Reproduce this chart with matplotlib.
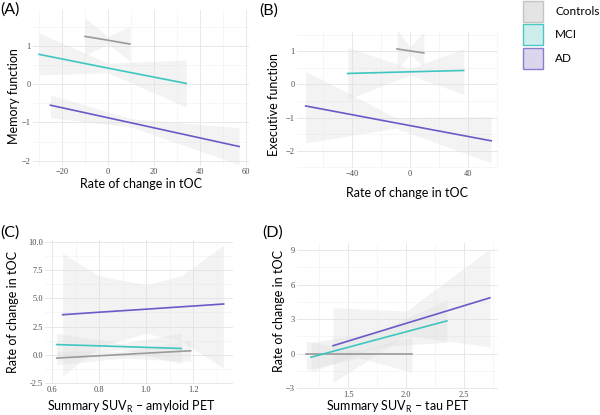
import matplotlib
matplotlib.use("Agg")
import matplotlib.pyplot as plt
from matplotlib.patches import Rectangle
from matplotlib.ticker import AutoMinorLocator

plt.rcParams['font.family'] = ['Lato', 'DejaVu Sans']
plt.rcParams['mathtext.fontset'] = 'custom'
plt.rcParams['mathtext.rm'] = 'Lato'

groups = ['Controls', 'MCI', 'AD']
line_colors = {'Controls': '#9a9a9a', 'MCI': '#3fc6c0', 'AD': '#6a5ac8'}
box_fill = {'Controls': '#e4e4e4', 'MCI': '#cdeeed', 'AD': '#dcd5ee'}
box_edge = {'Controls': '#c4c4c4', 'MCI': '#4cc8c2', 'AD': '#8b7dce'}

# panel A: memory function vs rate of change in tOC
a_x = {'Controls': [-10, 0, 9.5], 'MCI': [-30, 0, 34], 'AD': [-25, 10, 57]}
a_fit = {'Controls': [1.25, 1.15, 1.05], 'MCI': [0.78, 0.42, 0.02], 'AD': [-0.55, -1.01, -1.63]}
a_lo = {'Controls': [0.75, 1.05, 0.6], 'MCI': [0.24, 0.3, -0.6], 'AD': [-0.88, -1.12, -2.1]}
a_hi = {'Controls': [1.73, 1.25, 1.5], 'MCI': [1.34, 0.55, 0.63], 'AD': [-0.28, -0.9, -1.14]}

# panel B: executive function vs rate of change in tOC
b_x = {'Controls': [-9, 0, 9.5], 'MCI': [-43, 0, 37], 'AD': [-72, -10, 56]}
b_fit = {'Controls': [1.07, 1.01, 0.95], 'MCI': [0.33, 0.38, 0.42], 'AD': [-0.65, -1.16, -1.7]}
b_lo = {'Controls': [0.45, 0.9, 0.55], 'MCI': [-0.45, 0.28, -0.3], 'AD': [-1.76, -1.32, -2.36]}
b_hi = {'Controls': [1.67, 1.12, 1.58], 'MCI': [1.12, 0.48, 1.08], 'AD': [0.4, -1.0, -0.97]}

# panel C: rate of change in tOC vs amyloid PET SUVR
c_x = {'Controls': [0.62, 0.9, 1.19], 'MCI': [0.62, 0.9, 1.15], 'AD': [0.645, 0.8, 1.0, 1.15, 1.33]}
c_fit = {'Controls': [-0.3, 0.02, 0.35], 'MCI': [0.9, 0.72, 0.55], 'AD': [3.55, 3.77, 4.04, 4.25, 4.5]}
c_lo = {'Controls': [-0.9, -0.3, -0.6], 'MCI': [-0.1, 0.45, -0.8], 'AD': [-1.9, 0.7, 1.9, 1.2, -1.2]}
c_hi = {'Controls': [0.3, 0.3, 1.3], 'MCI': [1.9, 1.0, 1.9], 'AD': [9.0, 7.0, 6.2, 7.0, 9.7]}
c_yticks = [-2.5, 0, 2.5, 5, 7.5, 10]
c_ylabels = ['-2.5', '0.0', '2.5', '5.0', '7.5', '10.0']

# panel D: rate of change in tOC vs tau PET SUVR
d_x = {'Controls': [1.14, 1.6, 2.05], 'MCI': [1.18, 1.75, 2.35], 'AD': [1.37, 2.0, 2.72]}
d_fit = {'Controls': [-0.05, -0.05, -0.05], 'MCI': [-0.3, 1.24, 2.85], 'AD': [0.7, 2.64, 4.85]}
d_lo = {'Controls': [-1.4, -0.35, -1.6], 'MCI': [-1.6, 0.6, 1.0], 'AD': [-2.5, 1.6, 0.6]}
d_hi = {'Controls': [1.1, 0.25, 1.5], 'MCI': [1.0, 1.9, 4.7], 'AD': [4.0, 3.7, 9.1]}


def px_axes(fig, left, top, right, bottom):
    W, H = 600, 415
    return fig.add_axes([left / W, 1 - bottom / H, (right - left) / W, (bottom - top) / H])


def draw(ax, xs, fit, lo, hi):
    for g in groups:
        ax.fill_between(xs[g], lo[g], hi[g], color='#dedede', alpha=0.35, lw=0, zorder=1)
    for g in groups:
        ax.plot(xs[g], fit[g], color=line_colors[g], lw=1.2, zorder=3)
    for s in ax.spines.values():
        s.set_visible(False)
    ax.xaxis.set_minor_locator(AutoMinorLocator(2))
    ax.yaxis.set_minor_locator(AutoMinorLocator(2))
    ax.grid(True, which='major', color='#e8e8e8', lw=0.7, zorder=0)
    ax.grid(True, which='minor', color='#f0f0f0', lw=0.4, zorder=0)
    ax.set_axisbelow(True)
    ax.tick_params(which='both', length=0, labelsize=6, labelcolor='#4d4d4d', pad=1.5)


def serif_ticks(ax):
    for t in ax.get_xticklabels() + ax.get_yticklabels():
        t.set_family('Liberation Serif')


fig = plt.figure(figsize=(6, 4.15), dpi=100)
lab_fs = 9

axA = px_axes(fig, 33, 10, 249, 166)
draw(axA, a_x, a_fit, a_lo, a_hi)
axA.set_xlim(-32.6, 61.3)
axA.set_ylim(-2.14, 1.94)
axA.set_xticks([-20, 0, 20, 40, 60])
axA.set_yticks([-2, -1, 0, 1])
axA.set_xlabel('Rate of change in tOC', fontsize=lab_fs)
axA.set_ylabel('Memory function', fontsize=lab_fs)
axA.xaxis.set_label_coords(0.5, -0.075)
axA.yaxis.set_label_coords(-0.06, 0.446)

axB = px_axes(fig, 297, 32, 498, 168)
draw(axB, b_x, b_fit, b_lo, b_hi)
axB.set_xlim(-78, 60.7)
axB.set_ylim(-2.52, 1.58)
axB.set_xticks([-40, 0, 40])
axB.set_yticks([-2, -1, 0, 1])
axB.set_xlabel('Rate of change in tOC', fontsize=lab_fs)
axB.set_ylabel('Executive function', fontsize=lab_fs)
axB.xaxis.set_label_coords(0.545, -0.14)
axB.yaxis.set_label_coords(-0.085, 0.47)

axC = px_axes(fig, 45, 240, 233, 384)
draw(axC, c_x, c_fit, c_lo, c_hi)
axC.set_xlim(0.57, 1.37)
axC.set_ylim(-2.6, 10.18)
axC.set_xticks([0.6, 0.8, 1.0, 1.2])
axC.set_yticks(c_yticks)
axC.set_yticklabels(c_ylabels)
axC.set_xlabel('Summary SUV$_{\\mathrm{R}}$ \u2013 amyloid PET', fontsize=lab_fs)
axC.set_ylabel('Rate of change in tOC', fontsize=lab_fs)
axC.xaxis.set_label_coords(0.46, -0.1)
axC.yaxis.set_label_coords(-0.14, 0.5)

axD = px_axes(fig, 297, 243, 498, 389)
draw(axD, d_x, d_fit, d_lo, d_hi)
axD.set_xlim(1.06, 2.79)
axD.set_ylim(-3.05, 9.6)
axD.set_xticks([1.5, 2.0, 2.5])
axD.set_yticks([-3, 0, 3, 6, 9])
axD.set_xlabel('Summary SUV$_{\\mathrm{R}}$ \u2013 tau PET', fontsize=lab_fs)
axD.set_ylabel('Rate of change in tOC', fontsize=lab_fs)
axD.xaxis.set_label_coords(0.5, -0.07)
axD.yaxis.set_label_coords(-0.06, 0.537)

for ax in (axA, axB, axC, axD):
    serif_ticks(ax)

for x, y, lab in [(0, 2, '(A)'), (259, 3, '(B)'), (0, 225, '(C)'), (262, 225, '(D)')]:
    fig.text(x / 600, 1 - y / 415, lab, fontsize=11.5, va='top', ha='left')

# legend on the right
for i, g in enumerate(groups):
    top = 1 + i * 23.5
    fig.add_artist(Rectangle((523 / 600, 1 - (top + 21) / 415), 20 / 600, 21 / 415,
                             transform=fig.transFigure, facecolor=box_fill[g],
                             edgecolor=box_edge[g], lw=1.0))
    fig.text(555 / 600, 1 - (top + 10.5) / 415, g, fontsize=8.5, va='center', ha='left')

fig.savefig('out.png', dpi=100)
